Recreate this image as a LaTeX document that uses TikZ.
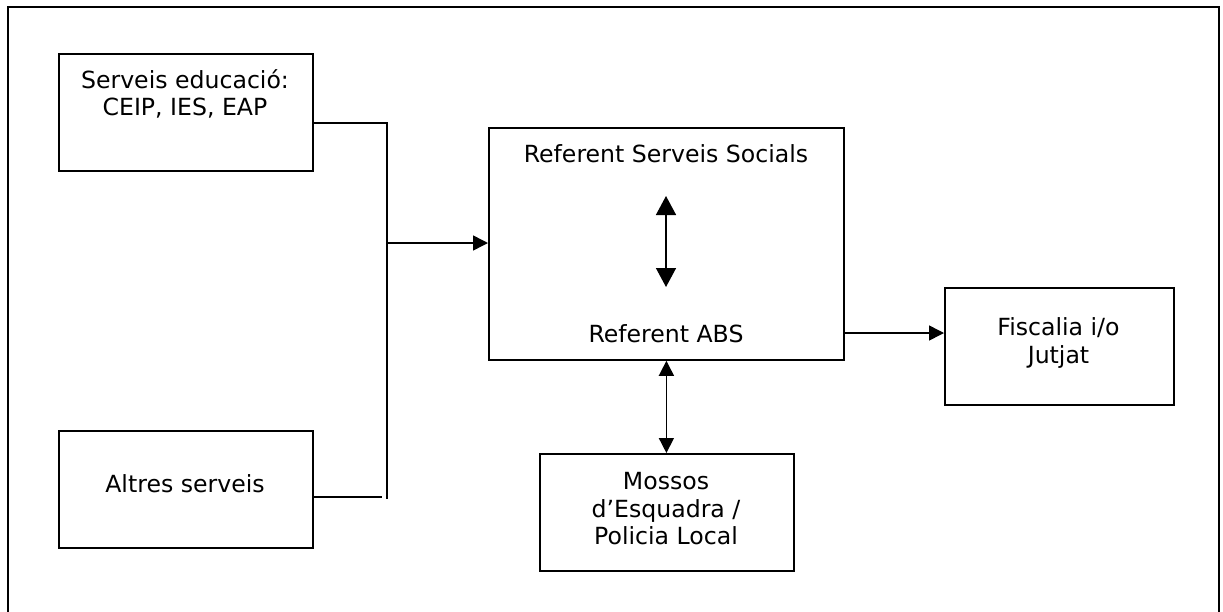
\documentclass[tikz,border=0pt]{standalone}
\usepackage{fontspec}
\setmainfont{DejaVu Sans}
\usetikzlibrary{arrows.meta}
\begin{document}
\begin{tikzpicture}[x=1pt,y=-1pt,
  box/.style={draw, line width=1.8pt, inner sep=0pt, anchor=north west},
  txt/.style={font=\fontsize{23.6}{27.5}\selectfont, align=center, inner sep=0pt},
  conn/.style={line width=1.5pt},
  tipS/.style={-{Triangle[length=15pt,width=15pt]}},
  tipD/.style={{Triangle[length=15pt,width=15pt]}-{Triangle[length=15pt,width=15pt]}},
  tipB/.style={{Triangle[length=19pt,width=20pt]}-{Triangle[length=19pt,width=20pt]}},
  frame/.style={line width=2pt}
]
\useasboundingbox (0,0) rectangle (1223,611);
\clip (0,0) rectangle (1223,611);
% outer frame (bottom edge lies outside the picture)
\draw[frame] (7.5,620) -- (7.5,6.5) -- (1219,6.5) -- (1219,620);

% boxes
\node[box, minimum width=254pt, minimum height=117pt] (edu) at (58,53) {};
\node[box, minimum width=254pt, minimum height=117pt] (altres) at (58,430) {};
\node[box, minimum width=355pt, minimum height=232pt] (ref) at (488,127) {};
\node[box, minimum width=254pt, minimum height=117pt] (mossos) at (539,453) {};
\node[box, minimum width=229pt, minimum height=117pt] (fisc) at (944,287) {};

% texts
\node[txt] (edut) at (185,94) {Serveis educació:\\CEIP, IES, EAP};
\node[txt] (altrest) at (185,484) {Altres serveis};
\node[txt] (refss) at (666,154) {Referent Serveis Socials};
\node[txt] (refabs) at (666,334) {Referent ABS};
\node[txt] (mossost) at (666,509) {Mossos\\d’Esquadra /\\Policia Local};
\node[txt] (fisct) at (1058.5,343) {Fiscalia i/o\\Jutjat};

% connectors
\coordinate (bustop) at (387,123);
\coordinate (busbot) at (387,499);
\coordinate (busmid) at (387,243);
\coordinate (altend) at (382,497);
\draw[conn] (edu.east |- bustop) -- (bustop) -- (busbot);
\draw[conn] (altres.east |- altend) -- (altend);
\draw[conn,tipS] (busmid) -- (ref.west |- busmid);

\coordinate (refout) at (843,333);
\draw[conn,tipS] (refout) -- (fisc.west |- refout);

\draw[conn,tipD] (ref.south) -- (mossos.north -| ref.south);

\coordinate (inA) at (666,196);
\coordinate (inB) at (666,287);
\draw[conn,tipB] (inA) -- (inB);
\end{tikzpicture}
\end{document}
